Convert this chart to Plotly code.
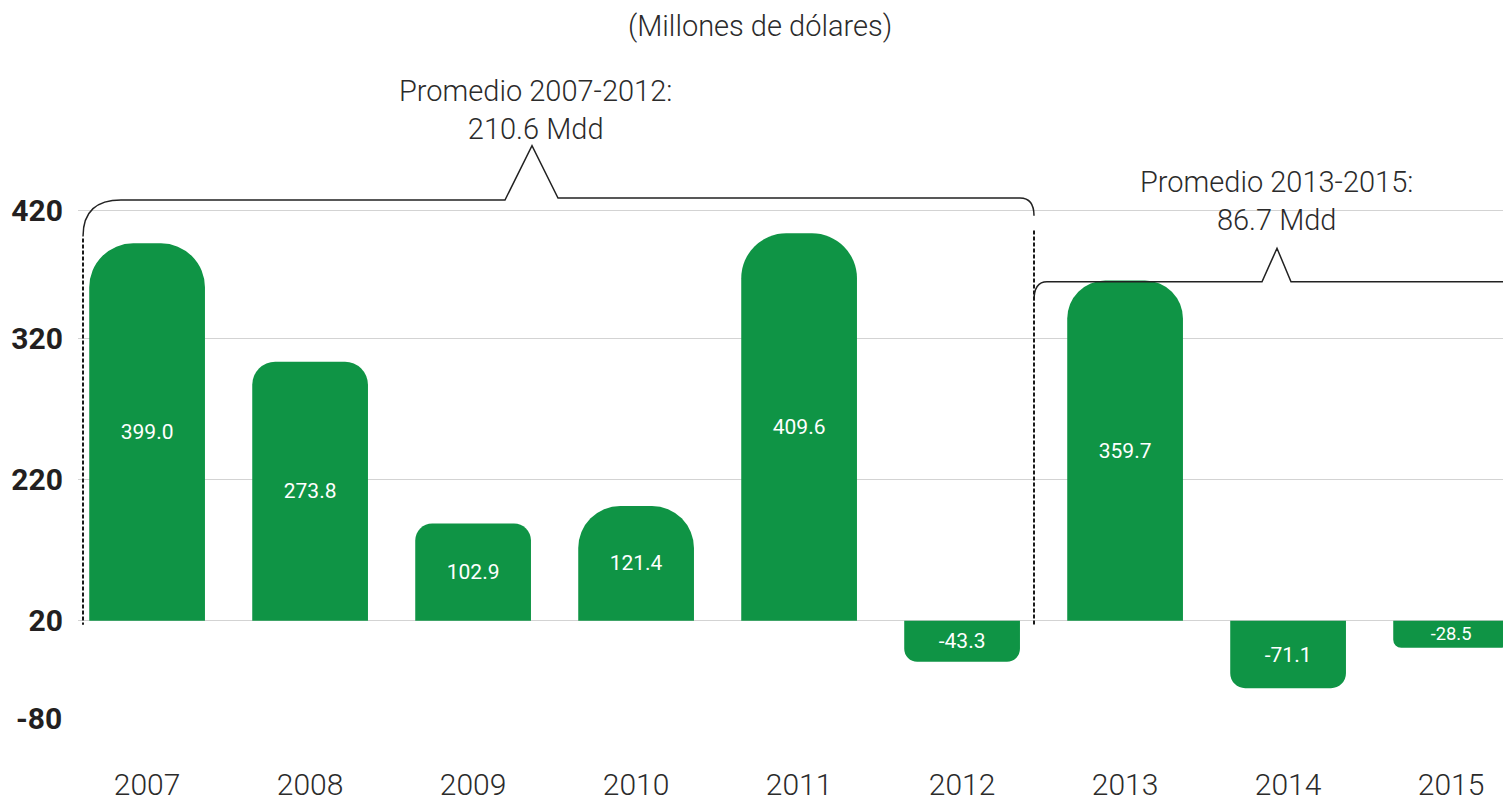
import plotly.graph_objects as go

# datos
anios = ["2007", "2008", "2009", "2010", "2011", "2012", "2013", "2014", "2015"]
flujo = [399.0, 273.8, 102.9, 121.4, 409.6, -43.3, 359.7, -71.1, -28.5]
etiquetas_y = ["420", "320", "220", "20"]
etiqueta_y_min = "-80"
titulo = "(Millones de dólares)"
promedio_1 = "Promedio 2007-2012:<br>210.6 Mdd"
promedio_2 = "Promedio 2013-2015:<br>86.7 Mdd"

# estilo
VERDE = "#0f9445"
TEXTO = "#2b2b2b"
FUENTE = "Roboto"
tapas = [44, 23, 17, 42, 45, 13, 38, 15, 8]  # radio de la tapa redondeada (px)

# la pagina deja 8 px de margen al body: la figura empieza en (8, 8)
OFF = 8
W, H = 1511 - OFF, 802 - OFF
P_IZQ, P_DER, P_SUP, P_INF = 78, 1511, 130, 759   # area de la grafica (px de pagina)
X0, PX_CAT = 147.1, 163.0    # centro de la primera barra, px por categoria
Y0, PX_UNIT = 628.0, 0.96    # linea base, px por millon


def xd(px):
    return (px - X0) / PX_CAT


def yd(py):
    return (Y0 - py) / PX_UNIT


def px_paper(px):
    return (px - P_IZQ) / (P_DER - P_IZQ)


def py_paper(py):
    return (P_INF - py) / (P_INF - P_SUP)


# posiciones de las lineas guia tal como aparecen en la grafica
grid_y = [yd(212), yd(342), yd(485), 0]

fig = go.Figure()
for i, (a, v) in enumerate(zip(anios, flujo)):
    fig.add_trace(go.Bar(
        x=[i], y=[v], width=0.71, name=a,
        marker=dict(color=VERDE, line_width=0, cornerradius=tapas[i]),
        text=[f"{v:.1f}"], textposition="inside", insidetextanchor="middle",
        constraintext="none",
        textfont=dict(family=FUENTE, size=21, color="white"),
        hoverinfo="skip", showlegend=False,
    ))

linea = dict(color="#222222", width=1.5)
llave_1 = (f"M {xd(83)},{yd(238)} Q {xd(83)},{yd(200)} {xd(123)},{yd(201)} "
           f"L {xd(505)},{yd(201)} L {xd(532)},{yd(146)} L {xd(558)},{yd(199)} "
           f"L {xd(1020)},{yd(199)} Q {xd(1034)},{yd(199)} {xd(1034)},{yd(217)}")
llave_2 = (f"M {xd(1034)},{yd(303)} Q {xd(1034)},{yd(284)} {xd(1047)},{yd(284)} "
           f"L {xd(1262)},{yd(284)} L {xd(1277)},{yd(250)} L {xd(1291)},{yd(284)} "
           f"L {xd(1502)},{yd(284)} Q {xd(1511)},{yd(284)} {xd(1511)},{yd(297)}")
fig.add_shape(type="path", path=llave_1, xref="x", yref="y", line=linea)
fig.add_shape(type="path", path=llave_2, xref="x", yref="y", line=linea)
for xp, ytop in [(83, 240), (1034, 232)]:
    fig.add_shape(type="line", xref="x", yref="y",
                  x0=xd(xp), x1=xd(xp), y0=yd(ytop), y1=yd(632),
                  line=dict(color="#1a1a1a", width=2, dash="4px,2px"))

for texto, xp, yp, tam in [(titulo, 759.5, 24, 29),
                           (promedio_1, 535.5, 109.5, 29),
                           (promedio_2, 1276, 202.5, 29)]:
    fig.add_annotation(text=texto, xref="paper", yref="paper",
                       x=px_paper(xp), y=py_paper(yp),
                       xanchor="center", yanchor="middle", showarrow=False,
                       font=dict(family=FUENTE, size=tam, color=TEXTO, weight=300))
fig.add_annotation(text=etiqueta_y_min, xref="paper", yref="y",
                   x=0, y=yd(727), xanchor="right", yanchor="middle",
                   xshift=-14, showarrow=False,
                   font=dict(family=FUENTE, size=30, color="#231f20", weight="bold"))

fig.update_layout(
    width=W, height=H,
    margin=dict(l=P_IZQ - OFF, r=OFF + W - P_DER, t=P_SUP - OFF, b=OFF + H - P_INF),
    barmode="overlay",
    plot_bgcolor="white", paper_bgcolor="white",
    xaxis=dict(range=[xd(P_IZQ), xd(P_DER)], tickmode="array",
               tickvals=list(range(len(anios))), ticktext=anios,
               showgrid=False, zeroline=False, showline=False, ticks="",
               ticklabelstandoff=14,
               tickfont=dict(family=FUENTE, size=30, color=TEXTO, weight=300)),
    yaxis=dict(range=[yd(P_INF), yd(P_SUP)], tickmode="array",
               tickvals=grid_y, ticktext=etiquetas_y,
               showgrid=True, gridcolor="#d3d3d3", gridwidth=1,
               zeroline=False, showline=False, ticks="",
               ticklabelstandoff=14,
               tickfont=dict(family=FUENTE, size=30, color="#231f20", weight="bold")),
)

fig.write_html("out.html")
